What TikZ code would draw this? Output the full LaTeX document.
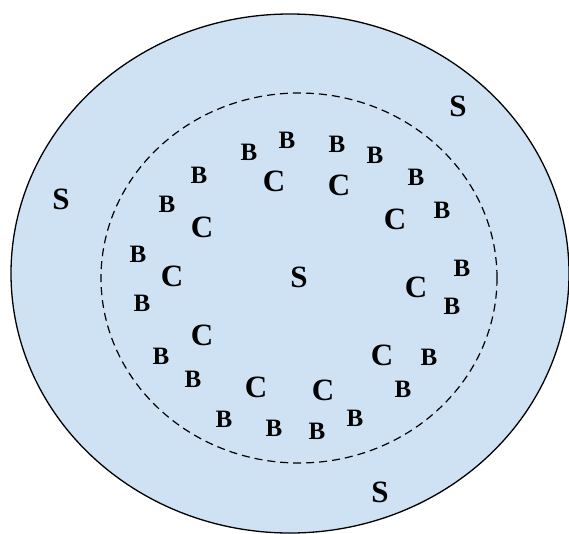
\documentclass[tikz,border=0pt]{standalone}
\usepackage{fontspec}
\setmainfont{Liberation Serif}
\usetikzlibrary{positioning}
\definecolor{SKY-FILL}{HTML}{CFE2F3}
\definecolor{INK}{RGB}{0, 0, 0}

\tikzset{
  slabel/.style={INK, font=\fontsize{31}{31}\selectfont\bfseries, inner sep=0pt},
  clabel/.style={INK, font=\fontsize{31}{31}\selectfont\bfseries, inner sep=0pt},
  blabel/.style={INK, font=\fontsize{25}{25}\selectfont\bfseries, inner sep=0pt}
}

\begin{document}
\begin{tikzpicture}[x=1pt, y=-1pt]
  \useasboundingbox (0,0) rectangle (569,533);

  % Outer region
  \fill[SKY-FILL, draw=INK, line width=1.3pt] (290,273.5) ellipse [x radius=279pt, y radius=259.5pt];

  % Inner dashed boundary
  \draw[INK, line width=1.2pt, dash pattern=on 8pt off 5pt] (299,278) ellipse [x radius=198pt, y radius=185pt];

  % S labels
  \node[slabel] (s1) at (458,106) {S};
  \node[slabel] (s2) at (61,199) {S};
  \node[slabel] (s3) at (299,277) {S};
  \node[slabel] (s4) at (380,492) {S};

  % C ring
  \foreach \x/\y [count=\i] in {274/181, 339/185, 395/219, 202/227, 172/276,
                                416/287, 202/335, 382/355, 256/387, 323/390}
    \node[clabel] (c\i) at (\x,\y) {C};

  % B ring
  \foreach \x/\y [count=\i] in {249/152, 287/140, 337/144, 375/155, 199/175,
                                416/177, 167/204, 442/210, 138/254, 462/268,
                                142/303, 452/306, 161/356, 429/357, 193/379,
                                403/389, 224/419, 355/418, 274/428, 317/431}
    \node[blabel] (b\i) at (\x,\y) {B};
\end{tikzpicture}
\end{document}
